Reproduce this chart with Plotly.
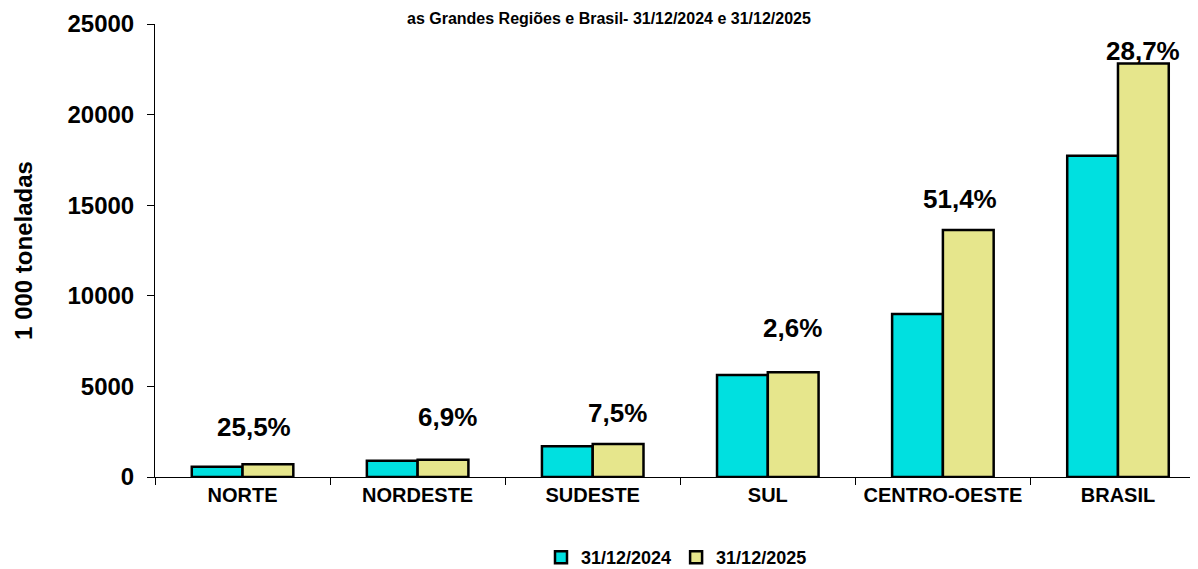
import plotly.graph_objects as go

categories = ["NORTE", "NORDESTE", "SUDESTE", "SUL", "CENTRO-OESTE", "BRASIL"]
series_names = ["31/12/2024", "31/12/2025"]
values_2024 = [560, 890, 1700, 5630, 9000, 17732]
values_2025 = [703, 951, 1828, 5776, 13626, 22821]
pct_labels = ["25,5%", "6,9%", "7,5%", "2,6%", "51,4%", "28,7%"]
y_ticks = [0, 5000, 10000, 15000, 20000, 25000]

# label placement (style): pixel offsets from the category centre / top of 2025 bar
label_dx_px = [11, 30, 25, 25, 17, 25]
label_dy_px = [37, 43, 31, 44, 31, 12]

FONT = "Arial, Liberation Sans, sans-serif"

fig = go.Figure()
fig.add_trace(go.Bar(
    x=categories, y=values_2024, name=series_names[0],
    marker=dict(color="#00E0E0", line=dict(color="black", width=2.5)),
))
fig.add_trace(go.Bar(
    x=categories, y=values_2025, name=series_names[1],
    marker=dict(color="#E6E68C", line=dict(color="black", width=2.5)),
))

annotations = []
for cat, v, lab, dx, dy in zip(categories, values_2025, pct_labels, label_dx_px, label_dy_px):
    annotations.append(dict(
        x=cat, y=v, xref="x", yref="y", text=lab, showarrow=False,
        xshift=dx, yshift=dy, yanchor="middle",
        font=dict(family=FONT, size=26, color="black", weight="bold"),
    ))
annotations.append(dict(
    x=0.435, y=1, xref="paper", yref="paper", xanchor="center", yanchor="top",
    yshift=16, showarrow=False,
    text="as Grandes Regiões e Brasil- 31/12/2024 e 31/12/2025",
    font=dict(family=FONT, size=16, color="black", weight="bold"),
))

# the page body adds an 8px offset; margins compensate so the plot sits where the reference has it
fig.update_layout(
    width=1198, height=569,
    margin=dict(l=147, r=8, t=16, b=100, autoexpand=False),
    paper_bgcolor="white", plot_bgcolor="white",
    barmode="group", bargap=0.42, bargroupgap=0,
    font=dict(family=FONT, color="black"),
    showlegend=True,
    legend=dict(orientation="h", x=0.5, xanchor="center", y=-0.178, yanchor="middle",
                font=dict(family=FONT, size=18, weight="bold"), itemwidth=30,
                traceorder="normal"),
    annotations=annotations,
)
fig.update_xaxes(
    range=[-0.5, 5.457], showline=True, linecolor="black", linewidth=1,
    ticks="outside", tickson="boundaries", ticklen=7, tickcolor="black",
    tickfont=dict(family=FONT, size=20, weight="bold"), showgrid=False,
    automargin=False,
)
fig.update_yaxes(
    range=[0, 25000], tickvals=y_ticks, tickformat="d",
    showline=True, linecolor="black", linewidth=1,
    ticks="outside", ticklen=7, tickcolor="black", showgrid=False, zeroline=False,
    ticklabelstandoff=8,
    tickfont=dict(family=FONT, size=24, weight="bold"), automargin=False,
    title=dict(text="1 000 toneladas", font=dict(family=FONT, size=24, weight="bold"), standoff=28),
)

fig.write_html("out.html")
